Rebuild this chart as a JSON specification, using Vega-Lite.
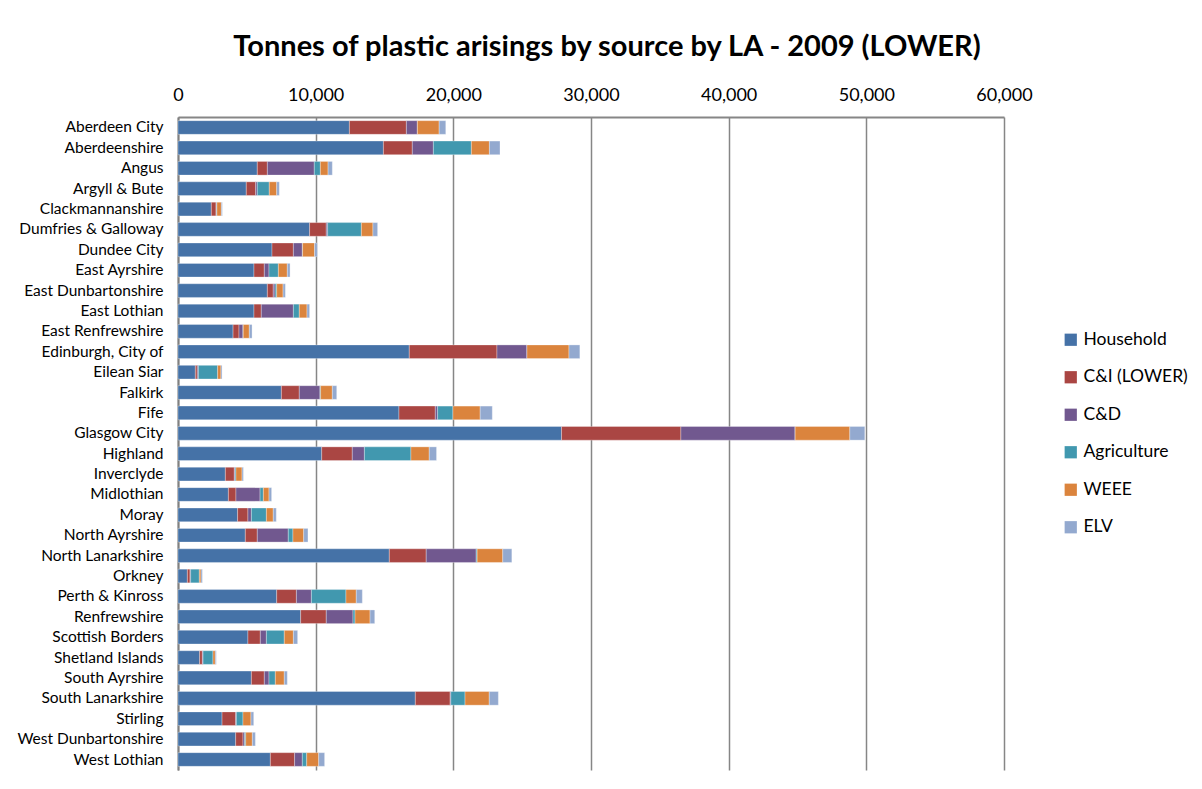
{
  "$schema": "https://vega.github.io/schema/vega-lite/v6.json",
  "width": 826,
  "height": 653,
  "autosize": {"type": "pad"},
  "padding": {"left": 16, "top": 33, "right": 5, "bottom": 3},
  "background": "white",
  "title": {
    "text": "Tonnes of plastic arisings by source by LA - 2009 (LOWER)",
    "font": "Lato",
    "fontSize": 29,
    "fontWeight": "bold",
    "color": "#000000",
    "anchor": "middle",
    "frame": "group",
    "offset": 24,
    "dx": 16
  },
  "datasets": {
    "la": [
      {"la": "Aberdeen City", "hh": 12450, "ci": 4140, "cd": 800, "ag": 0, "weee": 1580, "elv": 480},
      {"la": "Aberdeenshire", "hh": 14920, "ci": 2100, "cd": 1530, "ag": 2760, "weee": 1310, "elv": 770},
      {"la": "Angus", "hh": 5760, "ci": 730, "cd": 3410, "ag": 440, "weee": 560, "elv": 310},
      {"la": "Argyll & Bute", "hh": 4960, "ci": 680, "cd": 120, "ag": 870, "weee": 540, "elv": 190},
      {"la": "Clackmannanshire", "hh": 2420, "ci": 340, "cd": 50, "ag": 20, "weee": 320, "elv": 70},
      {"la": "Dumfries & Galloway", "hh": 9560, "ci": 1210, "cd": 100, "ag": 2450, "weee": 840, "elv": 340},
      {"la": "Dundee City", "hh": 6830, "ci": 1550, "cd": 650, "ag": 20, "weee": 870, "elv": 200},
      {"la": "East Ayrshire", "hh": 5520, "ci": 750, "cd": 340, "ag": 680, "weee": 650, "elv": 200},
      {"la": "East Dunbartonshire", "hh": 6490, "ci": 430, "cd": 130, "ag": 120, "weee": 460, "elv": 170},
      {"la": "East Lothian", "hh": 5520, "ci": 530, "cd": 2330, "ag": 430, "weee": 560, "elv": 190},
      {"la": "East Renfrewshire", "hh": 4000, "ci": 430, "cd": 290, "ag": 20, "weee": 440, "elv": 200},
      {"la": "Edinburgh, City of", "hh": 16800, "ci": 6370, "cd": 2180, "ag": 0, "weee": 3050, "elv": 790},
      {"la": "Eilean Siar", "hh": 1260, "ci": 140, "cd": 80, "ag": 1400, "weee": 240, "elv": 80},
      {"la": "Falkirk", "hh": 7510, "ci": 1300, "cd": 1500, "ag": 50, "weee": 850, "elv": 320},
      {"la": "Fife", "hh": 16050, "ci": 2640, "cd": 170, "ag": 1110, "weee": 1980, "elv": 880},
      {"la": "Glasgow City", "hh": 27860, "ci": 8670, "cd": 8300, "ag": 0, "weee": 3970, "elv": 1090},
      {"la": "Highland", "hh": 10440, "ci": 2220, "cd": 880, "ag": 3380, "weee": 1330, "elv": 530},
      {"la": "Inverclyde", "hh": 3440, "ci": 650, "cd": 50, "ag": 70, "weee": 440, "elv": 100},
      {"la": "Midlothian", "hh": 3660, "ci": 550, "cd": 1750, "ag": 240, "weee": 410, "elv": 190},
      {"la": "Moray", "hh": 4330, "ci": 750, "cd": 250, "ag": 1090, "weee": 500, "elv": 220},
      {"la": "North Ayrshire", "hh": 4890, "ci": 870, "cd": 2250, "ag": 340, "weee": 780, "elv": 310},
      {"la": "North Lanarkshire", "hh": 15350, "ci": 2680, "cd": 3630, "ag": 70, "weee": 1860, "elv": 660},
      {"la": "Orkney", "hh": 680, "ci": 190, "cd": 50, "ag": 630, "weee": 120, "elv": 100},
      {"la": "Perth & Kinross", "hh": 7170, "ci": 1430, "cd": 1090, "ag": 2510, "weee": 750, "elv": 440},
      {"la": "Renfrewshire", "hh": 8910, "ci": 1860, "cd": 1940, "ag": 150, "weee": 1090, "elv": 340},
      {"la": "Scottish Borders", "hh": 5080, "ci": 900, "cd": 440, "ag": 1300, "weee": 660, "elv": 310},
      {"la": "Shetland Islands", "hh": 1570, "ci": 200, "cd": 50, "ag": 720, "weee": 170, "elv": 70},
      {"la": "South Ayrshire", "hh": 5330, "ci": 940, "cd": 340, "ag": 460, "weee": 650, "elv": 220},
      {"la": "South Lanarkshire", "hh": 17240, "ci": 2530, "cd": 50, "ag": 1030, "weee": 1760, "elv": 660},
      {"la": "Stirling", "hh": 3200, "ci": 990, "cd": 50, "ag": 480, "weee": 580, "elv": 200},
      {"la": "West Dunbartonshire", "hh": 4190, "ci": 530, "cd": 120, "ag": 80, "weee": 480, "elv": 220},
      {"la": "West Lothian", "hh": 6710, "ci": 1760, "cd": 560, "ag": 320, "weee": 870, "elv": 430}
    ],
    "sources": [
      {"key": "hh", "name": "Household", "rank": 1},
      {"key": "ci", "name": "C&I (LOWER)", "rank": 2},
      {"key": "cd", "name": "C&D", "rank": 3},
      {"key": "ag", "name": "Agriculture", "rank": 4},
      {"key": "weee", "name": "WEEE", "rank": 5},
      {"key": "elv", "name": "ELV", "rank": 6}
    ]
  },
  "data": {"name": "la"},
  "transform": [
    {"fold": ["hh", "ci", "cd", "ag", "weee", "elv"], "as": ["key", "t"]},
    {"lookup": "key", "from": {"data": {"name": "sources"}, "key": "key", "fields": ["name", "rank"]}}
  ],
  "mark": {"type": "bar", "stroke": "#ffffff", "strokeWidth": 0.6, "strokeOpacity": 0.5},
  "encoding": {
    "y": {
      "field": "la",
      "type": "nominal",
      "sort": null,
      "title": null,
      "scale": {"paddingInner": 0.33, "paddingOuter": 0.18},
      "axis": {
        "ticks": false,
        "domain": true,
        "domainColor": "#808080",
        "domainWidth": 2,
        "labelFont": "Lato",
        "labelFontSize": 15.5,
        "labelColor": "#000000",
        "labelPadding": 15
      }
    },
    "x": {
      "field": "t",
      "type": "quantitative",
      "stack": "zero",
      "title": null,
      "scale": {"domain": [0, 60000], "nice": false},
      "axis": {
        "orient": "top",
        "values": [0, 10000, 20000, 30000, 40000, 50000, 60000],
        "format": ",d",
        "ticks": false,
        "domain": true,
        "domainColor": "#868686",
        "domainWidth": 2,
        "grid": true,
        "gridColor": "#868686",
        "gridWidth": 1.5,
        "labelFont": "Lato",
        "labelFontSize": 18,
        "labelColor": "#000000",
        "labelPadding": 13,
        "labelFlush": false
      }
    },
    "color": {
      "field": "name",
      "type": "nominal",
      "sort": ["Household", "C&I (LOWER)", "C&D", "Agriculture", "WEEE", "ELV"],
      "scale": {
        "domain": ["Household", "C&I (LOWER)", "C&D", "Agriculture", "WEEE", "ELV"],
        "range": ["#4572A7", "#AA4643", "#71588F", "#4198AF", "#DB843D", "#93A9CF"]
      },
      "legend": {
        "title": null,
        "orient": "none",
        "legendX": 884,
        "legendY": 214,
        "padding": 0,
        "symbolType": "square",
        "symbolSize": 150,
        "symbolStrokeWidth": 0,
        "symbolOpacity": 1,
        "labelFont": "Lato",
        "labelFontSize": 17.5,
        "labelColor": "#000000",
        "labelOffset": 4,
        "rowPadding": 18.5
      }
    },
    "order": {"field": "rank", "type": "quantitative"}
  },
  "config": {
    "view": {"stroke": null}
  }
}
